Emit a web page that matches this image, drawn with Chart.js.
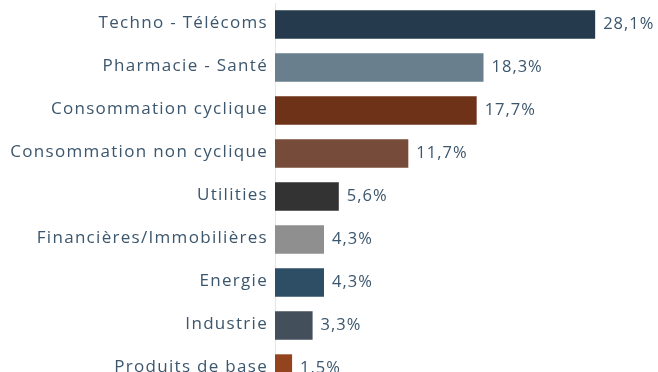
<!DOCTYPE html>
<html>
<head>
<meta charset="utf-8">
<script src="https://cdn.jsdelivr.net/npm/chart.js@4/dist/chart.umd.min.js"></script>
<style>
  html, body { margin: 0; padding: 0; background: #fff; overflow: hidden; }
  #wrap { width: 658px; height: 390px; }
</style>
</head>
<body>
<div id="wrap"><canvas id="sectorChart" width="658" height="390"></canvas></div>
<script>
const sectors = [
  "Techno - Télécoms",
  "Pharmacie - Santé",
  "Consommation cyclique",
  "Consommation non cyclique",
  "Utilities",
  "Financières/Immobilières",
  "Energie",
  "Industrie",
  "Produits de base"
];
const weights = [28.1, 18.3, 17.7, 11.7, 5.6, 4.3, 4.3, 3.3, 1.5];
const barColors = [
  "#253b4d", "#6a7f8e", "#6e3219", "#774b39", "#333333",
  "#8f8f8f", "#2e4e66", "#434f5a", "#93441e"
];

const textColor = "#3b566d";
const fontFamily = "'Open Sans', sans-serif";

const fmt = (v) => v.toFixed(1).replace(".", ",") + "%";

// value labels at the end of each bar
const barValues = {
  id: "barValues",
  afterDatasetsDraw(chart) {
    const ctx = chart.ctx;
    const meta = chart.getDatasetMeta(0);
    ctx.save();
    ctx.font = "16.5px " + fontFamily;
    ctx.letterSpacing = "1px";
    ctx.fillStyle = textColor;
    ctx.textAlign = "left";
    ctx.textBaseline = "middle";
    meta.data.forEach((bar, i) => {
      ctx.fillText(fmt(weights[i]), bar.x + 8, bar.y);
    });
    ctx.restore();
  }
};

const spacing = {
  id: "spacing",
  beforeDraw(chart) { chart.ctx.letterSpacing = "1.3px"; }
};

new Chart(document.getElementById("sectorChart"), {
  type: "bar",
  data: {
    labels: sectors,
    datasets: [{
      data: weights,
      backgroundColor: barColors,
      borderWidth: 0,
      barPercentage: 0.66,
      categoryPercentage: 1
    }]
  },
  options: {
    indexAxis: "y",
    responsive: false,
    animation: false,
    layout: { padding: { top: 3, right: 7, bottom: 0, left: 0 } },
    plugins: { legend: { display: false }, tooltip: { enabled: false } },
    scales: {
      x: {
        display: false,
        min: 0,
        max: 33
      },
      y: {
        afterFit(scale) {
          scale.width = 275;
          scale.paddingTop = 0;
          scale.paddingBottom = 0;
        },
        grid: { display: false, drawTicks: false },
        border: { display: true, color: "#e6e6e6", width: 1 },
        ticks: {
          color: textColor,
          padding: 7,
          labelOffset: -1,
          font: { family: "Open Sans", size: 17 }
        }
      }
    }
  },
  plugins: [spacing, barValues]
});
</script>
</body>
</html>
